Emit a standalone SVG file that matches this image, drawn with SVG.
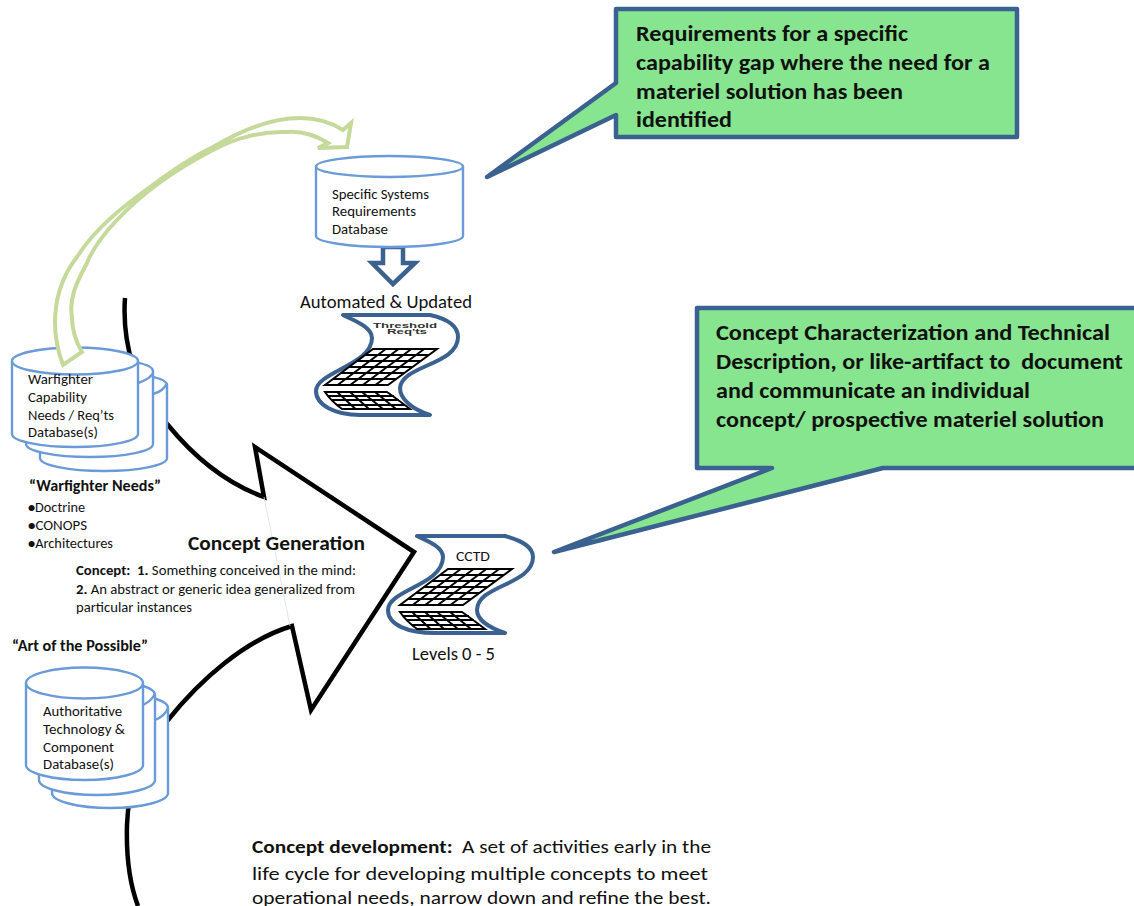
<svg xmlns="http://www.w3.org/2000/svg" width="1134" height="906" viewBox="0 0 1134 906">
<style>
text{font-family:Carlito,Lato,"Open Sans","Liberation Sans",sans-serif;fill:#111}
.b{font-weight:700}
.co{font-size:23px;font-weight:700}
.s{font-size:14.5px}
.cyl{fill:#fff;stroke:#6a9bd8;stroke-width:2.4}
.arc{fill:none;stroke:#6a9bd8;stroke-width:2.4}
.callout{fill:#88e58f;stroke:#3b6190;stroke-width:4.5;stroke-linejoin:round}
.doc{fill:#fff;stroke:#3b6190;stroke-width:4;stroke-linejoin:round;stroke-linecap:round}
.gl{fill:none;stroke:#000;stroke-width:2}
.tiny{font-size:6.5px;fill:#333;font-family:"Liberation Sans",sans-serif;font-weight:700}
</style>
<defs>
<g id="grid" class="gl">
<path d="M48 0H112L63 36H0ZM40 6H103.8M32 12H95.7M24 18H87.5M16 24H79.3M8 30H71.2M60.8 0L12.6 36M73.6 0L25.2 36M86.4 0L37.8 36M99.2 0L50.4 36"/>
<path d="M0 43H62Q72 50 85 60H17Q6 52 0 43ZM3 47H69M6 51H74M11 56H80M12 43L30.6 60M25 43L44 60M37 43L58 60M50 43L71 60"/>
</g>
</defs>
<g id="connectors-back">
<path id="concept-arrow" d="M125 298C122 340 135 395 168 425C195 458 228 484 264 497L255 447L414 552L311 710L292 626C245 640 200 680 168 720C145 745 128 785 127 825C126 860 130 885 138 906" fill="#fff" stroke="#000" stroke-width="4.5" stroke-linejoin="miter"/>
<path d="M264 497L290 626" fill="none" stroke="#ddd" stroke-width="0.8"/>
<path id="down-arrow" d="M383 247H403V263H415L393 284L372 263H383Z" fill="#fff" stroke="#3b6190" stroke-width="4.5"/>
</g>
<g id="callout-1">
<path class="callout" d="M616 9H1017V137H616V115L487 177L616 83Z"/>
<text class="co" x="636" y="41" textLength="272" lengthAdjust="spacingAndGlyphs">Requirements for a specific</text>
<text class="co" x="636" y="70" textLength="354" lengthAdjust="spacingAndGlyphs">capability gap where the need for a</text>
<text class="co" x="636" y="99" textLength="267" lengthAdjust="spacingAndGlyphs">materiel solution has been</text>
<text class="co" x="636" y="127" textLength="96" lengthAdjust="spacingAndGlyphs">identified</text>
</g>
<g id="callout-2">
<path class="callout" d="M697 308H1140V468H883L554 552L772 468H697Z"/>
<text class="co" x="716" y="340" textLength="394" lengthAdjust="spacingAndGlyphs">Concept Characterization and Technical</text>
<text class="co" x="716" y="369" textLength="407" lengthAdjust="spacingAndGlyphs" xml:space="preserve">Description, or like-artifact to  document</text>
<text class="co" x="716" y="398" textLength="314" lengthAdjust="spacingAndGlyphs">and communicate an individual</text>
<text class="co" x="716" y="427" textLength="388" lengthAdjust="spacingAndGlyphs">concept/ prospective materiel solution</text>
</g>
<g id="specific-db">
<path class="cyl" d="M316 166.5V236C316 242 349 247 389.5 247S463 242 463 236V166.5"/>
<ellipse class="cyl" cx="389.5" cy="166.5" rx="73.5" ry="10.5"/>
<text class="s" x="332" y="199" textLength="97" lengthAdjust="spacingAndGlyphs">Specific Systems</text>
<text class="s" x="332" y="216" textLength="84" lengthAdjust="spacingAndGlyphs">Requirements</text>
<text class="s" x="332" y="234" textLength="56" lengthAdjust="spacingAndGlyphs">Database</text>
</g>
<g id="threshold-doc">
<text x="300" y="308" font-size="18" textLength="172" lengthAdjust="spacingAndGlyphs">Automated &amp; Updated</text>
<path class="doc" d="M343 315H430C448 319 458 326 458 337C458 365 402 365 400 388C400 400 414 410 430 415H360C335 415 316 405 316 391C316 372 372 365 372 338C372 327 355 321 343 315Z"/>
<text class="tiny" x="373" y="327.5" textLength="64" lengthAdjust="spacingAndGlyphs">Threshold</text>
<text class="tiny" x="387" y="334" textLength="40" lengthAdjust="spacingAndGlyphs">Req'ts</text>
<use href="#grid" x="325" y="349"/>
</g>
<g id="warfighter-db">
<path class="cyl" d="M40 385V458C40 465 68 471 104 471S167 465 167 458V385C167 378 139 372 104 372S40 378 40 385Z"/>
<path class="cyl" d="M26 371V444C26 451 54 457 90 457S153 451 153 444V371C153 364 125 358 90 358S26 364 26 371Z"/>
<path class="arc" d="M153 373Q150 379 138 383"/>
<path class="cyl" d="M12 361V434C12 441 40 447 75 447S138 441 138 434V361"/>
<ellipse class="cyl" cx="75" cy="361" rx="63" ry="13.5"/>
<path class="arc" d="M167 383Q164 391 153 394"/>
<text class="s" x="28" y="384" textLength="65" lengthAdjust="spacingAndGlyphs">Warfighter</text>
<text class="s" x="28" y="402" textLength="59" lengthAdjust="spacingAndGlyphs">Capability</text>
<text class="s" x="28" y="420" textLength="86" lengthAdjust="spacingAndGlyphs">Needs / Req’ts</text>
<text class="s" x="28" y="437" textLength="70" lengthAdjust="spacingAndGlyphs">Database(s)</text>
</g>
<g id="connectors-front">
<path id="green-arrow" d="M63 365C48 325 55 285 77 257C95 228 125 205 150 187C170 172 190 158 213 147C245 128 275 118 300 118C318 118 332 123 343 130L351 123L347 147L318 148L328 143C315 135 300 131 287 132C262 131 235 138 213 150C180 167 145 190 117 220C100 238 92 250 87 263C75 285 69 300 72 317C72 330 76 342 82 352Z" fill="#fff" stroke="#c5d99a" stroke-width="4" stroke-linejoin="miter"/>
</g>
<g id="warfighter-needs">
<text class="b" x="29" y="491" font-size="15.5" textLength="132" lengthAdjust="spacingAndGlyphs">“Warfighter Needs”</text>
<text class="s" x="28" y="512" textLength="57" lengthAdjust="spacingAndGlyphs"><tspan class="b">•</tspan>Doctrine</text>
<text class="s" x="28" y="530" textLength="59" lengthAdjust="spacingAndGlyphs"><tspan class="b">•</tspan>CONOPS</text>
<text class="s" x="28" y="548" textLength="85" lengthAdjust="spacingAndGlyphs"><tspan class="b">•</tspan>Architectures</text>
</g>
<g id="concept-generation">
<text class="b" x="188" y="550" font-size="19.5" textLength="177" lengthAdjust="spacingAndGlyphs">Concept Generation</text>
<text x="76" y="575" font-size="13.5" textLength="280" lengthAdjust="spacingAndGlyphs" xml:space="preserve"><tspan class="b">Concept:  1.</tspan> Something conceived in the mind:</text>
<text x="76" y="594" font-size="13.5" textLength="279" lengthAdjust="spacingAndGlyphs"><tspan class="b">2.</tspan> An abstract or generic idea generalized from</text>
<text x="76" y="612" font-size="13.5" textLength="116" lengthAdjust="spacingAndGlyphs">particular instances</text>
</g>
<g id="cctd-doc">
<path class="doc" d="M417 536H505C523 541 533 547 533 557C533 585 477 585 477 610C477 620 490 628 505 633H435C408 633 388 625 388 610C388 590 443 585 443 557C443 547 428 541 417 536Z"/>
<text x="456" y="561" font-size="14.5" textLength="34" lengthAdjust="spacingAndGlyphs">CCTD</text>
<use href="#grid" x="400" y="569"/>
<text x="412" y="660" font-size="18" textLength="83" lengthAdjust="spacingAndGlyphs">Levels 0 - 5</text>
</g>
<g id="art-label">
<text class="b" x="12" y="651" font-size="15.5" textLength="136" lengthAdjust="spacingAndGlyphs">“Art of the Possible”</text>
</g>
<g id="authoritative-db">
<path class="cyl" d="M52 708V793C52 801 77 808 110 808S168 801 168 793V708C168 700 143 693 110 693S52 700 52 708Z"/>
<path class="cyl" d="M39 695V780C39 788 64 795 97 795S155 788 155 780V695C155 687 130 680 97 680S39 687 39 695Z"/>
<path class="arc" d="M155 693Q153 700 143 705"/>
<path class="cyl" d="M26 683V765C26 773 52 780 84.5 780S143 773 143 765V683"/>
<ellipse class="cyl" cx="84.5" cy="683" rx="58.5" ry="15.5"/>
<path class="arc" d="M168 708Q165 716 155 720"/>
<text class="s" x="43" y="716" textLength="79" lengthAdjust="spacingAndGlyphs">Authoritative</text>
<text class="s" x="43" y="734" textLength="82" lengthAdjust="spacingAndGlyphs">Technology &amp;</text>
<text class="s" x="43" y="752" textLength="71" lengthAdjust="spacingAndGlyphs">Component</text>
<text class="s" x="43" y="769" textLength="71" lengthAdjust="spacingAndGlyphs">Database(s)</text>
</g>
<g id="concept-development">
<text x="252" y="853" font-size="19" textLength="459" lengthAdjust="spacingAndGlyphs" xml:space="preserve"><tspan class="b">Concept development:</tspan>  A set of activities early in the</text>
<text x="252" y="880" font-size="19" textLength="456" lengthAdjust="spacingAndGlyphs">life cycle for developing multiple concepts to meet</text>
<text x="252" y="904" font-size="19" textLength="459" lengthAdjust="spacingAndGlyphs">operational needs, narrow down and refine the best.</text>
</g>
</svg>
